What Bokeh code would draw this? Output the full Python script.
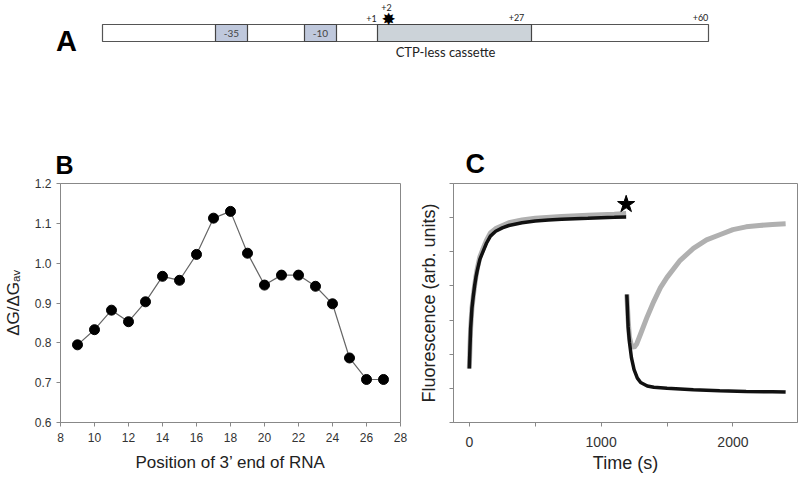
from bokeh.plotting import figure
from bokeh.layouts import column, row
from bokeh.models import Range1d, FixedTicker, PrintfTickFormatter, CustomJSTickFormatter
from bokeh.core.properties import value
from bokeh.embed import file_html
from bokeh.resources import INLINE

# ---------------- Panel A: promoter schematic (layout units = page pixels) ----------------
bar_left, bar_right = 102, 708
bar_top, bar_bottom = 24, 41
box_names = ["-35", "-10"]
box_left = [215, 304]
box_right = [247, 336]
cassette_left, cassette_right = 377, 531
cassette_name = "CTP-less cassette"
pos_names = ["+1", "+27", "+60"]
pos_x = [371, 516, 700]
pos_y = [18, 17, 17]
mark_name = "+2"
mark_x = 386
mark_y = 7

# ---------------- Panel B data ----------------
rna_end = [9, 10, 11, 12, 13, 14, 15, 16, 17, 18, 19, 20, 21, 22, 23, 24, 25, 26, 27]
dg_ratio = [0.795, 0.833, 0.882, 0.853, 0.903, 0.967, 0.957, 1.022, 1.113, 1.130,
            1.025, 0.945, 0.970, 0.970, 0.942, 0.898, 0.762, 0.708, 0.708]
b_xticks = [8, 10, 12, 14, 16, 18, 20, 22, 24, 26, 28]
b_yticks = [0.6, 0.7, 0.8, 0.9, 1.0, 1.1, 1.2]

# ---------------- Panel C data ----------------
t1_black = [0, 5, 10, 20, 30, 40, 50, 60, 80, 100, 130, 160, 200, 250, 300, 400, 500,
            600, 700, 800, 900, 1000, 1100, 1190]
f1_black = [1.58, 2.2, 2.75, 3.35, 3.7, 4.0, 4.25, 4.45, 4.78, 4.97, 5.25, 5.46, 5.6,
            5.7, 5.77, 5.85, 5.9, 5.93, 5.95, 5.97, 5.98, 6.0, 6.01, 6.02]
t1_gray = [0, 5, 10, 20, 30, 40, 50, 60, 80, 100, 130, 160, 200, 300, 400, 500, 700,
           900, 1100, 1190]
f1_gray = [1.58, 2.2, 2.75, 3.35, 3.7, 4.0, 4.27, 4.5, 4.85, 5.05, 5.33, 5.55, 5.68,
           5.85, 5.93, 5.98, 6.03, 6.07, 6.1, 6.12]
t2_black = [1195, 1200, 1205, 1215, 1230, 1250, 1275, 1300, 1350, 1400, 1500, 1700,
            1900, 2100, 2300, 2400]
f2_black = [3.75, 3.3, 2.8, 2.35, 1.9, 1.55, 1.3, 1.17, 1.07, 1.03, 1.0, 0.96, 0.93,
            0.91, 0.9, 0.89]
t2_gray = [1195, 1205, 1215, 1230, 1250, 1270, 1300, 1350, 1400, 1450, 1500, 1600,
           1700, 1800, 1900, 2000, 2100, 2200, 2300, 2400]
f2_gray = [3.75, 3.0, 2.5, 2.25, 2.2, 2.3, 2.6, 3.1, 3.55, 3.95, 4.25, 4.75, 5.1, 5.35,
           5.5, 5.65, 5.73, 5.77, 5.8, 5.82]
star_t, star_f = 1190, 6.39
c_xticks = [0, 1000, 2000]
c_xminor = [500, 1500, 2500]
c_yticks = [0, 1, 2, 3, 4, 5, 6, 7]

FONT = "Liberation Sans"
AXC = "#888888"
TXC = "#333333"

# ---------------- Figure A ----------------
fa = figure(width=798, height=103, output_backend="svg", toolbar_location=None,
            x_range=Range1d(0, 798), y_range=Range1d(103, 0),
            x_axis_type=None, y_axis_type=None, min_border=0)
fa.outline_line_color = None
fa.grid.visible = False
fa.quad(left=[bar_left], right=[bar_right], top=[bar_top], bottom=[bar_bottom],
        fill_color="white", line_color="#555555", line_width=1.2)
fa.quad(left=box_left, right=box_right, top=[bar_top] * 2, bottom=[bar_bottom] * 2,
        fill_color="#bfc8dc", line_color="#444444", line_width=1.2)
fa.quad(left=[cassette_left], right=[cassette_right], top=[bar_top], bottom=[bar_bottom],
        fill_color="#ccd3d9", line_color="#444444", line_width=1.2)
fa.text(x=[(l + r) / 2 for l, r in zip(box_left, box_right)], y=[(bar_top + bar_bottom) / 2] * 2,
        text=box_names, text_font=value("Lato"), text_font_size="10px", text_color="#444444",
        text_align="center", text_baseline="middle")
fa.text(x=pos_x, y=pos_y, text=pos_names, text_font=value("Lato"), text_font_size="9px",
        text_color="#222222", text_align="center", text_baseline="middle")
fa.text(x=[mark_x], y=[mark_y], text=[mark_name], text_font=value("Lato"), text_font_size="9px",
        text_color="#222222", text_align="center", text_baseline="middle")
fa.text(x=[mark_x + 2], y=[mark_y + 11], text=["\u2738"], text_font=value("DejaVu Sans"),
        text_font_size="17px", text_color="black", text_align="center", text_baseline="middle")
fa.text(x=[(cassette_left + cassette_right) / 2 - 9], y=[51], text=[cassette_name],
        text_font=value("Lato"), text_font_size="13px", text_color="#222222",
        text_align="center", text_baseline="middle")
fa.text(x=[66], y=[40], text=["A"], text_font=value(FONT), text_font_style="bold",
        text_font_size="29px", text_color="black", text_align="center", text_baseline="middle")


def style_axes(p, tick_size):
    for ax in (p.xaxis, p.yaxis):
        ax.axis_line_color = AXC
        ax.major_tick_line_color = AXC
        ax.minor_tick_line_color = AXC
        ax.major_tick_in = 0
        ax.major_tick_out = 4
        ax.minor_tick_in = 0
        ax.minor_tick_out = 4
        ax.major_label_text_font = FONT
        ax.major_label_text_font_size = tick_size
        ax.major_label_text_color = TXC
        ax.axis_label_text_font = FONT
        ax.axis_label_text_font_style = "normal"
        ax.axis_label_text_color = "#222222"
    p.grid.visible = False
    p.outline_line_color = AXC


def style_letter(p, size, offset):
    p.title.text_font = FONT
    p.title.text_font_style = "bold"
    p.title.text_font_size = size
    p.title.text_color = "black"
    p.title.align = "left"
    p.title.offset = offset
    p.title.standoff = 9


# ---------------- Figure B ----------------
fb = figure(width=413, height=373, output_backend="svg", toolbar_location=None,
            title="B", x_range=Range1d(8, 28), y_range=Range1d(0.6, 1.2),
            min_border_left=60, min_border_right=13, min_border_top=80, min_border_bottom=54)
style_axes(fb, "12px")
style_letter(fb, "25px", -5)
fb.xaxis.ticker = FixedTicker(ticks=b_xticks, minor_ticks=[])
fb.yaxis.ticker = FixedTicker(ticks=b_yticks, minor_ticks=[])
fb.yaxis.formatter = PrintfTickFormatter(format="%.1f")
fb.yaxis.axis_label = "\u0394G/\u0394G\u2090\u1d65"
fb.yaxis.axis_label_text_font_size = "17px"
fb.yaxis.axis_label_standoff = 9
fb.xaxis.axis_label = "Position of 3\u2019 end of RNA"
fb.xaxis.axis_label_text_font_size = "17px"
fb.xaxis.major_label_standoff = 6
fb.xaxis.axis_label_standoff = 8
fb.line(rna_end, dg_ratio, line_color="#666666", line_width=1.2)
fb.scatter(rna_end, dg_ratio, size=10, fill_color="black", line_color="black")

# ---------------- Figure C ----------------
fc = figure(width=385, height=373, output_backend="svg", toolbar_location=None,
            title="C", x_range=Range1d(-120, 2490), y_range=Range1d(0, 7),
            min_border_left=40, min_border_right=1, min_border_top=80, min_border_bottom=54)
style_axes(fc, "14px")
style_letter(fc, "27px", 12)
fc.xaxis.ticker = FixedTicker(ticks=c_xticks, minor_ticks=c_xminor)
fc.yaxis.ticker = FixedTicker(ticks=c_yticks, minor_ticks=[])
fc.yaxis.formatter = CustomJSTickFormatter(code="return '';")
fc.yaxis.major_label_standoff = 0
fc.yaxis.axis_label = "Fluorescence (arb. units)"
fc.yaxis.axis_label_text_font_size = "18px"
fc.yaxis.axis_label_standoff = 11
fc.xaxis.axis_label = "Time (s)"
fc.xaxis.axis_label_text_font_size = "18px"
fc.xaxis.major_label_standoff = 10
fc.xaxis.axis_label_standoff = 3
fc.line(t1_gray, f1_gray, line_color="#b0b0b0", line_width=5)
fc.line(t1_black, f1_black, line_color="#111111", line_width=3.5)
fc.line(t2_gray, f2_gray, line_color="#b0b0b0", line_width=5)
fc.line(t2_black, f2_black, line_color="#111111", line_width=3.5)
fc.scatter([star_t], [star_f], marker="star", size=18, fill_color="black", line_color="black")

layout = column(fa, row(fb, fc))
open("out.html", "w").write(file_html(layout, INLINE))
